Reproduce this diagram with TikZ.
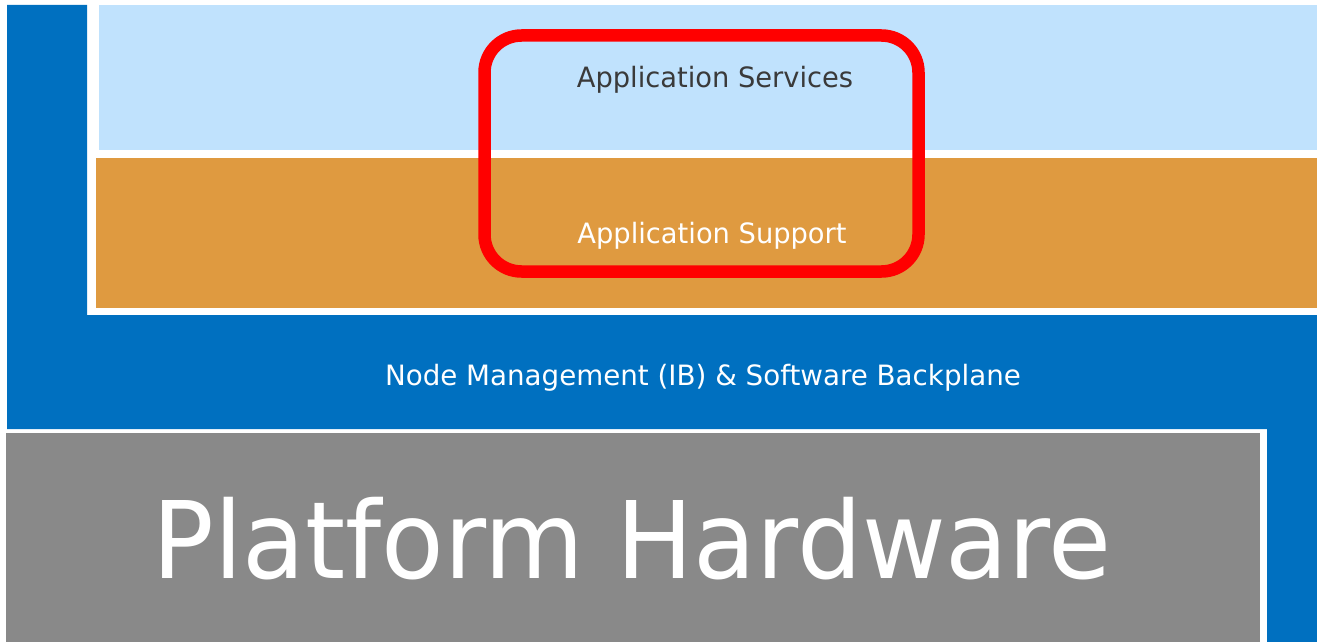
\documentclass[tikz,border=0pt]{standalone}
\usepackage{fontspec}
\setmainfont{DejaVu Sans}
\definecolor{bandblue}{HTML}{0070C0}
\definecolor{lightblue}{HTML}{C0E2FD}
\definecolor{orangeband}{HTML}{DF9A40}
\definecolor{hwgray}{HTML}{898989}
\definecolor{darktext}{HTML}{3A3A3A}
\tikzset{
  lbl/.style={inner sep=0pt, anchor=base, font=\fontsize{28}{34}\selectfont},
  bigl/.style={inner sep=0pt, anchor=base, font=\fontsize{107}{120}\selectfont, text=white},
  hilite/.style={draw=red, line width=12.5pt, rounded corners=37pt}
}
\begin{document}
\begin{tikzpicture}[x=1pt,y=-1pt]
\useasboundingbox (0,0) rectangle (1317,642);
\fill[white] (0,0) rectangle (1317,642);
% blue L-shaped backplane
\fill[bandblue] (7,5) -- (87,5) -- (87,315) -- (1317,315) -- (1317,642) -- (1267,642) -- (1267,429) -- (7,429) -- cycle;
% layers
\fill[lightblue] (99,5) rectangle (1317,150);
\fill[orangeband] (96,158) rectangle (1317,308);
\fill[hwgray] (6,433) rectangle (1260,642);
% labels
\node[lbl, text=darktext, xscale=0.975] (svc) at (715,88) {Application Services};
\node[lbl, text=white, xscale=0.975] (sup) at (712,243) {Application Support};
\node[lbl, text=white, xscale=0.99] (nm) at (703,385) {Node Management (IB) \& Software Backplane};
\node[bigl, xscale=0.957] (hw) at (632,578) {Platform Hardware};
% highlight
\draw[hilite] (484.5,35.5) rectangle (918.5,271.5);
\end{tikzpicture}
\end{document}
